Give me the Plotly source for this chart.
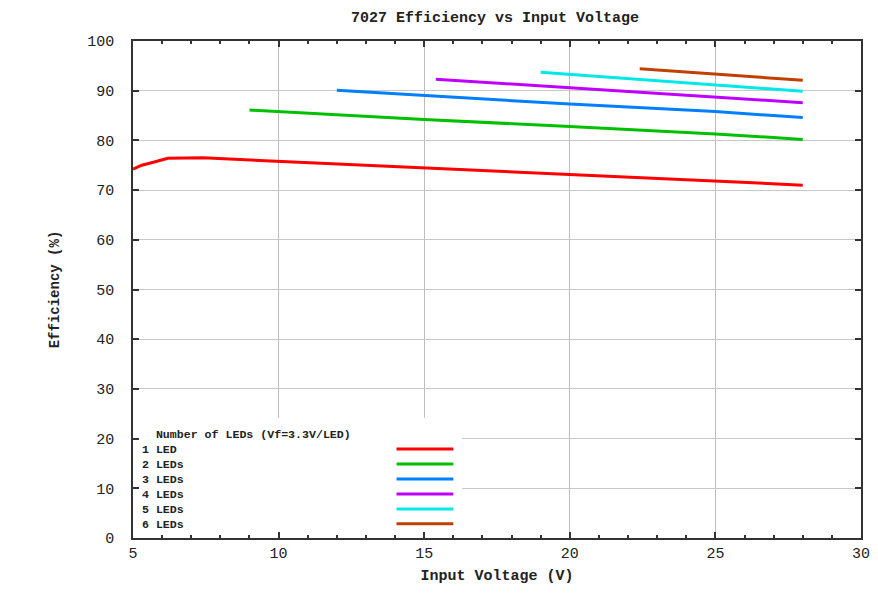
import plotly.graph_objects as go

# ---- data ----
led1_x = [5.0, 5.3, 5.7, 6.2, 7.4, 8.5, 10, 12, 15, 20, 25, 28]
led1_y = [74.2, 75.0, 75.6, 76.4, 76.5, 76.2, 75.9, 75.3, 74.5, 73.1, 71.8, 71.0]
led2_x = [9.0, 15, 20, 25, 28]
led2_y = [86.1, 84.2, 82.8, 81.3, 80.2]
led3_x = [12.0, 15, 20, 25, 28]
led3_y = [90.1, 89.0, 87.3, 85.8, 84.6]
led4_x = [15.4, 20, 25, 28]
led4_y = [92.3, 90.6, 88.8, 87.6]
led5_x = [19.0, 25, 28]
led5_y = [93.7, 91.2, 89.9]
led6_x = [22.4, 25, 28]
led6_y = [94.4, 93.3, 92.1]

series_names = ["1 LED", "2 LEDs", "3 LEDs", "4 LEDs", "5 LEDs", "6 LEDs"]
series_colors = ["#ff0000", "#00c000", "#0080ff", "#c000ff", "#00e8e8", "#c04000"]
legend_title = "Number of LEDs (Vf=3.3V/LED)"
title_text = "7027 Efficiency vs Input Voltage"
x_title = "Input Voltage (V)"
y_title = "Efficiency (%)"
x_ticks = [5, 10, 15, 20, 25, 30]
y_ticks = [0, 10, 20, 30, 40, 50, 60, 70, 80, 90, 100]

xs = [led1_x, led2_x, led3_x, led4_x, led5_x, led6_x]
ys = [led1_y, led2_y, led3_y, led4_y, led5_y, led6_y]

MONO = "Liberation Mono, Courier New, monospace"
TXT = "#222222"

fig = go.Figure()
for name, c, x, y in zip(series_names, series_colors, xs, ys):
    fig.add_trace(go.Scatter(x=x, y=y, mode="lines", name=name,
                             line=dict(color=c, width=3), showlegend=False))

# ---- custom key (gnuplot style: text left, sample right) ----
key_box = dict(x0=5, x1=16.3, y0=0, y1=24.2)
key_text_x = 5.25
key_sample_x = (14.05, 16.0)
key_rows_y = [17.9, 14.9, 11.85, 8.85, 5.85, 2.85]

fig.add_shape(type="rect", xref="x", yref="y", layer="between",
              fillcolor="white", line=dict(width=0), **key_box)
key_lines = ["\u00a0\u00a0" + legend_title] + series_names
fig.add_annotation(x=key_text_x, y=1.1, xref="x", yref="y",
                   text="<br>".join("<b>" + s + "</b>" for s in key_lines),
                   showarrow=False, xanchor="left", yanchor="bottom", align="left",
                   font=dict(family=MONO, size=11.6, color=TXT))
for c, yy in zip(series_colors, key_rows_y):
    fig.add_shape(type="line", xref="x", yref="y", layer="above",
                  x0=key_sample_x[0], x1=key_sample_x[1], y0=yy, y1=yy,
                  line=dict(color=c, width=3))

W, H = 870, 594
fig.update_layout(
    width=W, height=H,
    margin=dict(l=125, r=8, t=33, b=64),
    paper_bgcolor="white", plot_bgcolor="white",
    title=dict(text="<b>" + title_text + "</b>", x=(487) / W, xanchor="center",
               y=1 - 9 / H, yanchor="middle",
               font=dict(family=MONO, size=15, color=TXT)),
    font=dict(family=MONO, size=15, color=TXT),
)
fig.update_xaxes(
    range=[5, 30], tickvals=x_ticks, ticks="inside", ticklen=6,
    tickcolor="#333", tickwidth=1.5,
    showline=True, linecolor="#333", linewidth=1.5, mirror="ticks",
    showgrid=True, gridcolor="#bcbcbc", gridwidth=1.2, zeroline=False,
    minor=dict(dtick=1, ticks="inside", ticklen=3, tickcolor="#333", showgrid=False),
    tickfont=dict(family=MONO, size=15, color=TXT),
    ticklabelstandoff=0,
    title=dict(text="<b>" + x_title + "</b>", standoff=8,
               font=dict(family=MONO, size=15, color=TXT)),
)
fig.update_yaxes(
    range=[0, 100], tickvals=y_ticks, ticks="inside", ticklen=6,
    tickcolor="#333", tickwidth=1.5,
    showline=True, linecolor="#333", linewidth=1.5, mirror="ticks",
    showgrid=True, gridcolor="#c8c8c8", gridwidth=1.2, zeroline=False,
    tickfont=dict(family=MONO, size=15, color=TXT),
    ticklabelstandoff=14,
    title=dict(text="<b>" + y_title + "</b>", standoff=24,
               font=dict(family=MONO, size=14, color=TXT)),
)

fig.write_html("out.html")
